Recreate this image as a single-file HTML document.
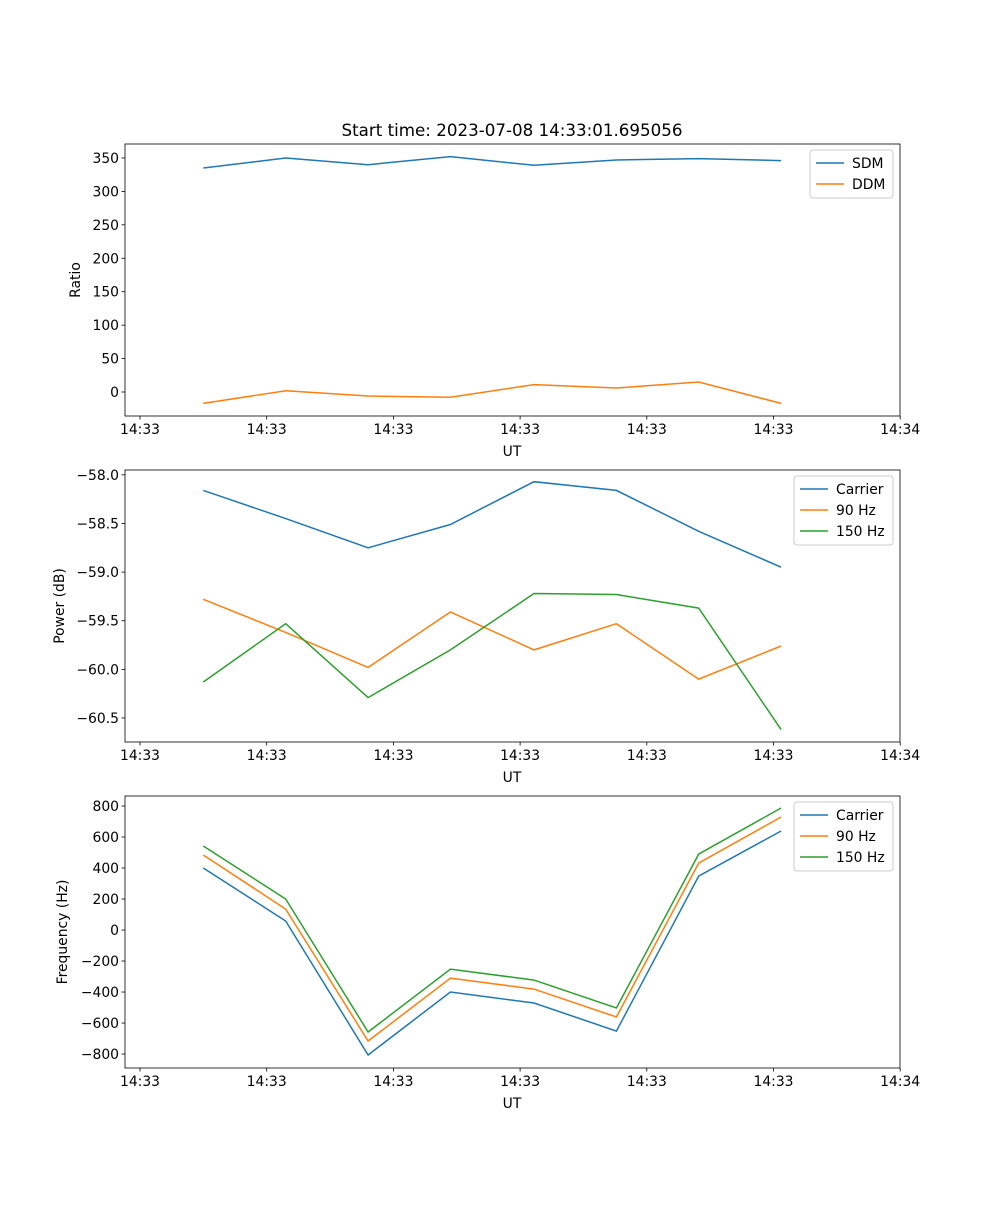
<!DOCTYPE html>
<html><head><meta charset="utf-8"><style>
body{margin:0;background:#fff;}
svg text{font-family:"DejaVu Sans","Liberation Sans",sans-serif;font-size:13.9px;fill:#000;}
</style></head><body>
<svg id="fig" width="1000" height="1200" xmlns="http://www.w3.org/2000/svg">
<rect width="1000" height="1200" fill="#fff"/>
<text x="512" y="136" text-anchor="middle" style="font-size:16.7px">Start time: 2023-07-08 14:33:01.695056</text>
</svg>
<script>
const times=[0.5,1.15,1.8,2.45,3.11,3.76,4.41,5.06];
const xTicks=[0,1,2,3,4,5,6];
const xTickLabels=["14:33","14:33","14:33","14:33","14:33","14:33","14:34"];
const sdm=[335,350,340,352,339,347,349,346];
const ddm=[-17,2,-6,-8,11,6,15,-17];
const pCarrier=[-58.16,-58.45,-58.75,-58.51,-58.07,-58.16,-58.58,-58.95];
const p90=[-59.28,-59.62,-59.98,-59.41,-59.80,-59.53,-60.10,-59.76];
const p150=[-60.13,-59.53,-60.29,-59.80,-59.22,-59.23,-59.37,-60.62];
const fCarrier=[400,58,-806,-400,-471,-652,348,639];
const f90=[484,135,-716,-310,-381,-561,432,729];
const f150=[542,200,-658,-252,-323,-503,490,787];
const ratioTicks=[0,50,100,150,200,250,300,350];
const powerTicks=[-58.0,-58.5,-59.0,-59.5,-60.0,-60.5];
const freqTicks=[-800,-600,-400,-200,0,200,400,600,800];

const NS="http://www.w3.org/2000/svg";
const svg=document.getElementById('fig');
const C=["#1f77b4","#ff7f0e","#2ca02c"];
function mk(t,a,p){const e=document.createElementNS(NS,t);for(const k in a)e.setAttribute(k,a[k]);(p||svg).appendChild(e);return e;}
const L=125,R=900;
function xs(t){return 140+t*126.7;}
function panel(name,top,bot,vTop,vBot,yticks,fmt,ylabel,series,labels,legend){
  const g=mk('g',{});
  
  
  const ys=v=>top+(vTop-v)/(vTop-vBot)*(bot-top);
  series.forEach((s,i)=>{
    const pts=s.map((v,j)=>xs(times[j]).toFixed(1)+','+ys(v).toFixed(1)).join(' ');
    const pl=mk('polyline',{points:pts,fill:'none',stroke:C[i],'stroke-width':1.5},g);
    
    
  });
  const fr=mk('rect',{x:L,y:top,width:R-L,height:bot-top,fill:'none',stroke:'#000','stroke-width':0.8},g);
  
  
  xTicks.forEach((t,i)=>{
    const x=xs(t);
    mk('line',{x1:x,x2:x,y1:bot,y2:bot+3.5,stroke:'#000','stroke-width':0.8},g);
    const tx=mk('text',{x:x,y:bot+18,'text-anchor':'middle'},g);tx.textContent=xTickLabels[i];
    
    
  });
  const xl=mk('text',{x:512,y:bot+40,'text-anchor':'middle'},g);xl.textContent='UT';
  
  
  yticks.forEach(v=>{
    const y=ys(v);
    mk('line',{x1:L-3.5,x2:L,y1:y,y2:y,stroke:'#000','stroke-width':0.8},g);
    const tx=mk('text',{x:L-6,y:y+5,'text-anchor':'end'},g);tx.textContent=fmt(v);
    
    
  });
  const yl=mk('text',{x:0,y:0,'text-anchor':'middle',transform:`translate(${legend.yx},${(top+bot)/2}) rotate(-90)`},g);yl.textContent=ylabel;
  
  
  const lg=mk('g',{},g);
  
  
  mk('rect',{x:legend.x,y:top+6,width:893-legend.x,height:labels.length*21+6,rx:3,fill:'#fff',stroke:'#ccc','stroke-width':1},lg);
  labels.forEach((lab,i)=>{
    const y=top+19+i*21;
    mk('line',{x1:legend.x+6,x2:legend.x+34,y1:y,y2:y,stroke:C[i],'stroke-width':1.5},lg);
    const t=mk('text',{x:legend.x+42,y:y+5},lg);t.textContent=lab;
    
    
  });
}
panel('ratio',144,416,370.9,-35.9,ratioTicks,v=>v<0?'\u2212'+(-v):String(v),'Ratio',[sdm,ddm],['SDM','DDM'],{x:810,yx:80});
panel('power',470,742,-57.95,-60.747,powerTicks,v=>'\u2212'+(-v).toFixed(1),'Power (dB)',[pCarrier,p90,p150],['Carrier','90 Hz','150 Hz'],{x:794,yx:64});
panel('frequency',796,1068,864.5,-890,freqTicks,v=>v<0?'\u2212'+(-v):String(v),'Frequency (Hz)',[fCarrier,f90,f150],['Carrier','90 Hz','150 Hz'],{x:794,yx:67});
</script>
</body></html>
